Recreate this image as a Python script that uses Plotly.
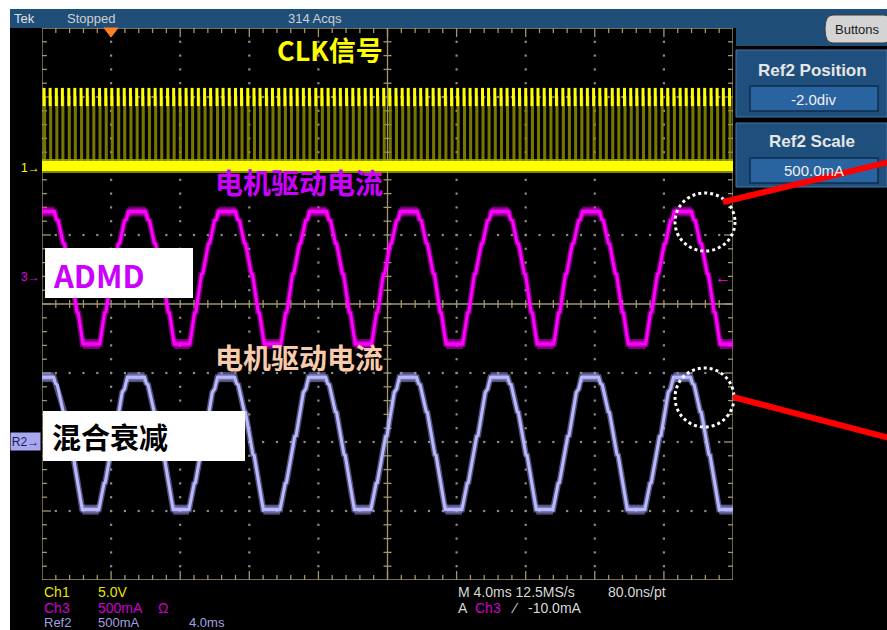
import plotly.graph_objects as go

W, H = 887, 630


def px(x):
    return x / W


def py(y):
    return 1 - y / H


# ---- scope screen geometry and settings ----
GRID_L, GRID_R, GRID_T, GRID_B = 42, 733, 28, 580
MS_PER_DIV = 4.0
H_DIVS, V_DIVS = 10, 8
T_SPAN = MS_PER_DIV * H_DIVS
PX_PER_MS = (GRID_R - GRID_L) / T_SPAN
PX_PER_DIV = (GRID_B - GRID_T) / V_DIVS

CH1_V_PER_DIV, CH1_POS = 5.0, 2.0
CH3_MA_PER_DIV, CH3_POS = 500.0, 0.4
REF2_MA_PER_DIV, REF2_POS = 500.0, -2.0

# ---- CLK (Ch1): pulse start times in ms, logic levels in V ----
clk_pulse_ms = [
    0.12, 0.47, 0.83, 1.18, 1.55, 1.90, 2.26, 2.62, 2.97, 3.33,
    3.69, 4.04, 4.41, 4.76, 5.12, 5.48, 5.83, 6.19, 6.55, 6.90,
    7.27, 7.62, 7.98, 8.34, 8.69, 9.05, 9.41, 9.76, 10.13, 10.48,
    10.84, 11.20, 11.55, 11.91, 12.27, 12.62, 12.99, 13.34, 13.70, 14.06,
    14.41, 14.77, 15.13, 15.48, 15.85, 16.20, 16.56, 16.92, 17.27, 17.63,
    17.99, 18.34, 18.71, 19.06, 19.42, 19.78, 20.13, 20.49, 20.85, 21.20,
    21.57, 21.92, 22.28, 22.64, 22.99, 23.35, 23.71, 24.06, 24.43, 24.78,
    25.14, 25.50, 25.85, 26.21, 26.57, 26.92, 27.29, 27.64, 28.00, 28.36,
    28.71, 29.07, 29.43, 29.78, 30.15, 30.50, 30.86, 31.22, 31.57, 31.93,
    32.29, 32.64, 33.01, 33.36, 33.72, 34.08, 34.43, 34.79, 35.15, 35.50,
    35.87, 36.22, 36.58, 36.94, 37.29, 37.65, 38.01, 38.36, 38.73, 39.08,
    39.44, 39.80,
]
clk_width_ms = 0.06
clk_low_v = 0.0
clk_high_v = 5.0

# ---- motor current, ADMD (Ch3): peak centres in ms, one-cycle outline ----
ch3_peak_ms = [0.22, 5.50, 10.71, 15.98, 21.24, 26.51, 31.78, 37.10]
ch3_cycle_ms = [-2.15, -1.88, -1.80, -1.48, -1.40, -1.08, -1.00, -0.72, -0.62, -0.50,
                0.50, 0.62, 0.72, 1.00, 1.08, 1.40, 1.48, 1.80, 1.88, 2.15]
ch3_cycle_ma = [-490, -265, -258, 15, 22, 235, 242, 405, 412, 470,
                470, 412, 405, 242, 235, 22, 15, -258, -265, -490]
ch3_end_ma = -490

# ---- motor current, mixed decay (Ref2) ----
ref2_peak_ms = [0.18, 5.44, 10.66, 15.93, 21.19, 26.46, 31.73, 37.05]
ref2_cycle_ms = [-2.15, -1.85, -1.78, -1.30, -1.22, -0.80, -0.66, -0.50,
                 0.50, 0.60, 0.70, 1.05, 1.12, 1.55, 1.62, 2.15]
ref2_cycle_ma = [-490, -300, -294, 40, 46, 360, 385, 470,
                 470, 425, 415, 220, 214, -90, -96, -490]
ref2_end_ma = -490

# ---- colours ----
GRAT = "#a0966e"
DOT = "#8c8c8c"
YEL = "#ffff00"
MAG = "#ff00ff"
LAV = "#b8b8ff"
BLUE = "#1f4e79"
PANEL = "#1f4f7c"

fig = go.Figure()

# ---- graticule ----
gx, gy = [], []


def seg(x0, y0, x1, y1):
    gx.extend([x0, x1, None])
    gy.extend([y0, y1, None])


half = V_DIVS / 2
seg(0, -half, T_SPAN, -half)
seg(0, half, T_SPAN, half)
seg(0, -half, 0, half)
seg(T_SPAN, -half, T_SPAN, half)
seg(0, 0, T_SPAN, 0)
seg(T_SPAN / 2, -half, T_SPAN / 2, half)

minor_ms = MS_PER_DIV / 5
for i in range(1, H_DIVS * 5):
    t = i * minor_ms
    major = i % 5 == 0
    L = (9 if major else 5) / PX_PER_DIV
    seg(t, half, t, half - L)
    seg(t, -half, t, -half + L)
    c = 4 / PX_PER_DIV
    seg(t, -c, t, c)
for j in range(1, V_DIVS * 5):
    v = -half + j * 0.2
    major = j % 5 == 0
    L = (9 if major else 5) / PX_PER_MS
    seg(0, v, L, v)
    seg(T_SPAN, v, T_SPAN - L, v)
    c = 4 / PX_PER_MS
    seg(T_SPAN / 2 - c, v, T_SPAN / 2 + c, v)

fig.add_trace(go.Scatter(x=gx, y=gy, mode="lines", line=dict(color=GRAT, width=1.3),
                         hoverinfo="skip", showlegend=False))

dx, dy = [], []
for k in range(1, H_DIVS):
    if k == H_DIVS // 2:
        continue
    for j in range(1, V_DIVS * 5):
        dx.append(k * MS_PER_DIV)
        dy.append(-half + j * 0.2)
for k in range(1, V_DIVS):
    if k == V_DIVS // 2:
        continue
    for i in range(1, H_DIVS * 5):
        dx.append(i * minor_ms)
        dy.append(-half + k)
fig.add_trace(go.Scatter(x=dx, y=dy, mode="markers",
                         marker=dict(color=DOT, size=2.2, symbol="square"),
                         hoverinfo="skip", showlegend=False))

# ---- CLK trace ----
cx, cy = [], []
for t in clk_pulse_ms:
    cx.extend([t, t, t + clk_width_ms, t + clk_width_ms, None])
    cy.extend([clk_low_v, clk_high_v, clk_high_v, clk_low_v, None])
fig.add_trace(go.Scatter(x=cx, y=cy, yaxis="y2", mode="lines",
                         line=dict(color="rgba(140,140,0,0.85)", width=2),
                         hoverinfo="skip", showlegend=False))
fig.add_trace(go.Scatter(x=clk_pulse_ms, y=[clk_high_v] * len(clk_pulse_ms), yaxis="y2",
                         mode="markers",
                         marker=dict(symbol="line-ns", size=13,
                                     line=dict(color=YEL, width=3)),
                         hoverinfo="skip", showlegend=False))
fig.add_trace(go.Scatter(x=[0, T_SPAN], y=[clk_low_v, clk_low_v], yaxis="y2", mode="lines",
                         line=dict(color="rgba(170,170,0,0.8)", width=14),
                         hoverinfo="skip", showlegend=False))
fig.add_trace(go.Scatter(x=[0, T_SPAN], y=[clk_low_v, clk_low_v], yaxis="y2", mode="lines",
                         line=dict(color=YEL, width=10),
                         hoverinfo="skip", showlegend=False))


def build(peaks, cyc_t, cyc_v, end_v):
    xs, ys = [], []
    for p in peaks:
        for dt, v in zip(cyc_t, cyc_v):
            xs.append(p + dt)
            ys.append(v)
    xs.append(T_SPAN)
    ys.append(end_v)
    return xs, ys


def flats(peaks, cyc_t, cyc_v):
    top = max(cyc_v)
    bot = min(cyc_v)
    ts = [t for t, v in zip(cyc_t, cyc_v) if v == top]
    bs = [t for t, v in zip(cyc_t, cyc_v) if v == bot]
    xs, ys = [], []
    for p in peaks:
        xs.extend([p + ts[0], p + ts[-1], None])
        ys.extend([top, top, None])
    for a, b in zip(peaks[:-1], peaks[1:]):
        xs.extend([a + bs[-1], b + bs[0], None])
        ys.extend([bot, bot, None])
    xs.extend([peaks[-1] + bs[-1], T_SPAN, None])
    ys.extend([bot, bot, None])
    return xs, ys


for peaks, ct, cv, ev, axis, col, halo in [
    (ch3_peak_ms, ch3_cycle_ms, ch3_cycle_ma, ch3_end_ma, "y3", MAG, "rgba(255,0,255,0.45)"),
    (ref2_peak_ms, ref2_cycle_ms, ref2_cycle_ma, ref2_end_ma, "y4", LAV, "rgba(160,160,240,0.5)"),
]:
    xs, ys = build(peaks, ct, cv, ev)
    fx, fy = flats(peaks, ct, cv)
    fig.add_trace(go.Scatter(x=xs, y=ys, yaxis=axis, mode="lines",
                             line=dict(color=halo, width=6),
                             hoverinfo="skip", showlegend=False))
    fig.add_trace(go.Scatter(x=fx, y=fy, yaxis=axis, mode="lines",
                             line=dict(color=halo, width=10),
                             hoverinfo="skip", showlegend=False))
    fig.add_trace(go.Scatter(x=xs, y=ys, yaxis=axis, mode="lines",
                             line=dict(color=col, width=3),
                             hoverinfo="skip", showlegend=False))


# ---- shapes ----
def rect(x0, y0, x1, y1, fill, line=None, lw=0, layer="below"):
    return dict(type="rect", xref="paper", yref="paper",
                x0=px(x0), x1=px(x1), y0=py(y1), y1=py(y0),
                fillcolor=fill, line=dict(color=line or fill, width=lw), layer=layer)


def path(points, fill, line, lw=1, layer="above", close=True):
    d = "M " + " L ".join(f"{px(a):.5f},{py(b):.5f}" for a, b in points)
    if close:
        d += " Z"
    return dict(type="path", xref="paper", yref="paper", path=d,
                fillcolor=fill, line=dict(color=line, width=lw), layer=layer)


shapes = [
    rect(10, 9, W, H, "#000000"),
    rect(10, 9, W, 28, BLUE),
    rect(736, 28, W, 46, BLUE),
    rect(736, 50, W, 117, PANEL, "#4a78a8", 1),
    rect(736, 123, W, 187, PANEL, "#4a78a8", 1),
    rect(750, 86, 878, 111, "#2a64a0", "#0f2c4a", 1.5),
    rect(750, 158, 878, 183, "#2a64a0", "#0f2c4a", 1.5),
    dict(type="path", xref="paper", yref="paper",
         path=(f"M {px(833):.5f},{py(15):.5f} L {px(884):.5f},{py(15):.5f} "
               f"Q {px(892):.5f},{py(15):.5f} {px(892):.5f},{py(29):.5f} "
               f"Q {px(892):.5f},{py(43):.5f} {px(884):.5f},{py(43):.5f} "
               f"L {px(833):.5f},{py(43):.5f} "
               f"Q {px(825):.5f},{py(43):.5f} {px(825):.5f},{py(29):.5f} "
               f"Q {px(825):.5f},{py(15):.5f} {px(833):.5f},{py(15):.5f} Z"),
         fillcolor="#d4d4d4", line=dict(color="#3a3a3a", width=1), layer="below"),
    path([(104, 28), (118, 28), (111, 37)], "#ff8020", "#ff8020"),
    rect(45, 248, 193, 298, "#ffffff", layer="above"),
    rect(43, 411, 245, 461, "#ffffff", layer="above"),
    dict(type="circle", xref="paper", yref="paper",
         x0=px(675), x1=px(735), y0=py(251), y1=py(193),
         line=dict(color="#ffffff", width=3, dash="dot"), layer="above"),
    dict(type="circle", xref="paper", yref="paper",
         x0=px(675), x1=px(734), y0=py(427), y1=py(368),
         line=dict(color="#ffffff", width=3, dash="dot"), layer="above"),
    dict(type="line", xref="paper", yref="paper",
         x0=px(723), y0=py(202), x1=px(W + 2), y1=py(162),
         line=dict(color="#ff0000", width=6), layer="above"),
    dict(type="line", xref="paper", yref="paper",
         x0=px(733), y0=py(397), x1=px(W + 2), y1=py(438),
         line=dict(color="#ff0000", width=6), layer="above"),
]

# ---- text ----
UI = "Liberation Sans"
CJK = "Noto Sans CJK SC"
ann = []


def text(x, y, s, color, size, family=UI, xa="left", ya="middle", bg=None, w=None, h=None):
    d = dict(x=px(x), y=py(y), xref="paper", yref="paper", text=s, showarrow=False,
             xanchor=xa, yanchor=ya, font=dict(family=family, size=size, color=color),
             borderpad=0)
    if bg:
        d["bgcolor"] = bg
    if w:
        d["width"] = w
    if h:
        d["height"] = h
    ann.append(d)


# top status bar
text(13, 18, "Tek", "#e0e0e0", 13)
text(66, 18, "Stopped", "#d0d0d0", 13)
text(287, 18, "314 Acqs", "#d0d0d0", 13)
text(857, 29, "Buttons", "#1a1a1a", 13, xa="center")

# side panel
text(812, 70, "<b>Ref2 Position</b>", "#e6e6e6", 17, xa="center")
text(814, 99, "-2.0div", "#f0f0f0", 15, xa="center")
text(812, 142, "<b>Ref2 Scale</b>", "#e6e6e6", 17, xa="center")
text(814, 171, "500.0mA", "#f0f0f0", 15, xa="center")

# channel markers
text(41, 168, "1→", YEL, 12, xa="right")
text(41, 277, "3→", "#e000e0", 12, xa="right")
text(41, 441, "R2→", "#1c1c5a", 12, xa="right", bg="#a8a8f0", w=29, h=17)
text(732, 277, "←", "#ff00ff", 16, xa="right")

# labels on the traces
text(330, 50, "<b>CLK信号</b>", YEL, 27, family=CJK, xa="center")
text(299, 182, "<b>电机驱动电流</b>", "#cc00ff", 28, family=CJK, xa="center")
text(299, 357, "<b>电机驱动电流</b>", "#f8cbad", 28, family=CJK, xa="center")
text(52, 274, "<b>ADMD</b>", "#cc00ff", 31, family=CJK)
text(51, 436, "<b>混合衰减</b>", "#000000", 29, family=CJK)

# bottom readouts
text(43, 592, "Ch1", "#e6e600", 14)
text(97, 592, "5.0V", "#e6e600", 14)
text(43, 608, "Ch3", "#d000d0", 14)
text(97, 608, "500mA", "#d000d0", 14)
text(157, 608, "Ω", "#d000d0", 14)
text(43, 622, "Ref2", "#a0a0e0", 13)
text(97, 622, "500mA", "#a0a0e0", 13)
text(188, 622, "4.0ms", "#a0a0e0", 13)
text(457, 592, "M 4.0ms 12.5MS/s", "#d8d8d8", 14)
text(607, 592, "80.0ns/pt", "#d8d8d8", 14)
text(457, 608, "A", "#d8d8d8", 14)
text(474, 608, "Ch3", "#d000d0", 14)
text(510, 608, "⁄", "#d8d8d8", 14)
text(527, 608, "-10.0mA", "#d8d8d8", 14)

dom_x = [px(GRID_L), px(GRID_R)]
dom_y = [py(GRID_B), py(GRID_T)]
hidden = dict(visible=False, showgrid=False, zeroline=False, fixedrange=True)

fig.update_layout(
    width=W, height=H,
    margin=dict(l=0, r=0, t=0, b=0),
    paper_bgcolor="#ffffff",
    plot_bgcolor="rgba(0,0,0,0)",
    showlegend=False,
    xaxis=dict(domain=dom_x, range=[0, T_SPAN], **hidden),
    yaxis=dict(domain=dom_y, range=[-half, half], **hidden),
    yaxis2=dict(overlaying="y", range=[(-half - CH1_POS) * CH1_V_PER_DIV,
                                       (half - CH1_POS) * CH1_V_PER_DIV], **hidden),
    yaxis3=dict(overlaying="y", range=[(-half - CH3_POS) * CH3_MA_PER_DIV,
                                       (half - CH3_POS) * CH3_MA_PER_DIV], **hidden),
    yaxis4=dict(overlaying="y", range=[(-half - REF2_POS) * REF2_MA_PER_DIV,
                                       (half - REF2_POS) * REF2_MA_PER_DIV], **hidden),
    shapes=shapes,
    annotations=ann,
)

fig.write_html("out.html")
